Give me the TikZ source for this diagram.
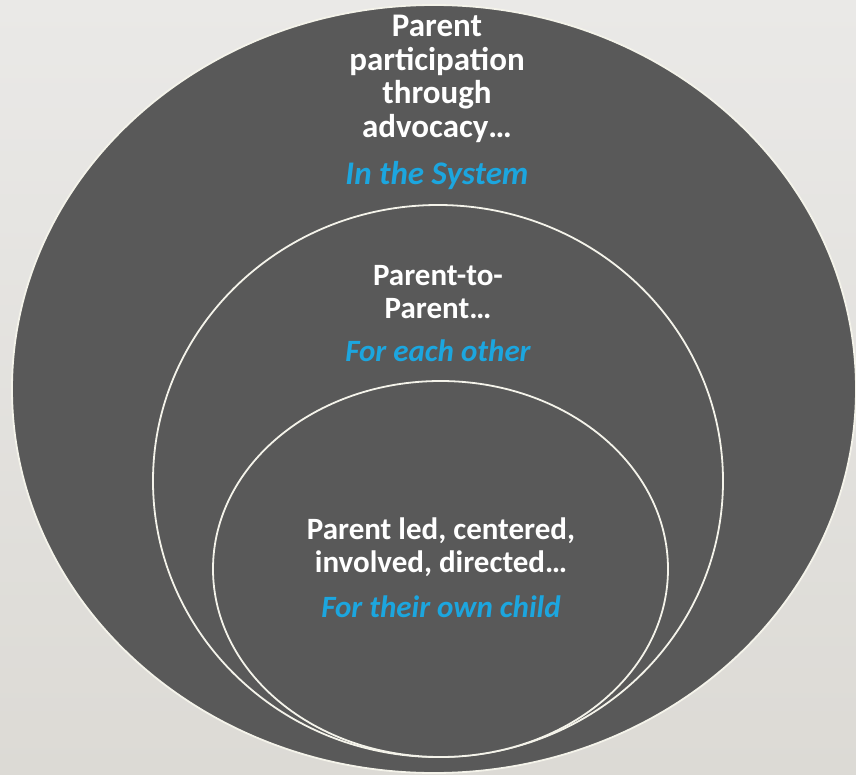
\documentclass[tikz,border=0pt]{standalone}
\usepackage{fontspec}
\setmainfont{Carlito}
\usetikzlibrary{shapes.geometric}
\definecolor{bgtop}{HTML}{EAE9E7}
\definecolor{bgbottom}{HTML}{DCDAD5}
\definecolor{ringfill}{HTML}{595959}
\definecolor{ringline}{HTML}{F4F3EA}
\definecolor{tagblue}{HTML}{1CA6DF}
\begin{document}
\begin{tikzpicture}[x=1pt, y=-1pt,
    ring/.style={ellipse, draw=ringline, line width=1.8pt, fill=ringfill, inner sep=0pt},
    lbl/.style={text=white, align=center, font=\bfseries\fontsize{31}{33}\selectfont},
    tag/.style={text=tagblue, font=\bfseries\itshape\fontsize{31}{33}\selectfont},
    biglbl/.style={lbl, font=\bfseries\fontsize{33}{33.7}\selectfont},
    bigtag/.style={tag, font=\bfseries\itshape\fontsize{33}{33.7}\selectfont}]
    % Background
    \shade[top color=bgtop, bottom color=bgbottom] (0,0) rectangle (856,775);
    \useasboundingbox (0,0) rectangle (856,775);

    % Nested rings
    \node[ring, minimum width=844pt, minimum height=768pt] (system) at (434,389) {};
    \node[ring, minimum width=570pt, minimum height=552pt] (peers) at (438,481) {};
    \node[ring, minimum width=455pt, minimum height=376pt] (child) at (440.5,569) {};

    % Outer ring text
    \node[biglbl] (systemtxt) at (437,79) {Parent\\participation\\through\\advocacy…};
    \node[bigtag] (systemtag) at (437,176) {In the System};

    % Middle ring text
    \node[lbl] (peerstxt) at (438,292) {Parent-to-\\Parent…};
    \node[tag] (peerstag) at (438,351) {For each other};

    % Inner ring text
    \node[lbl] (childtxt) at (441,547) {Parent led, centered,\\involved, directed…};
    \node[tag] (childtag) at (441,607) {For their own child};
\end{tikzpicture}
\end{document}
